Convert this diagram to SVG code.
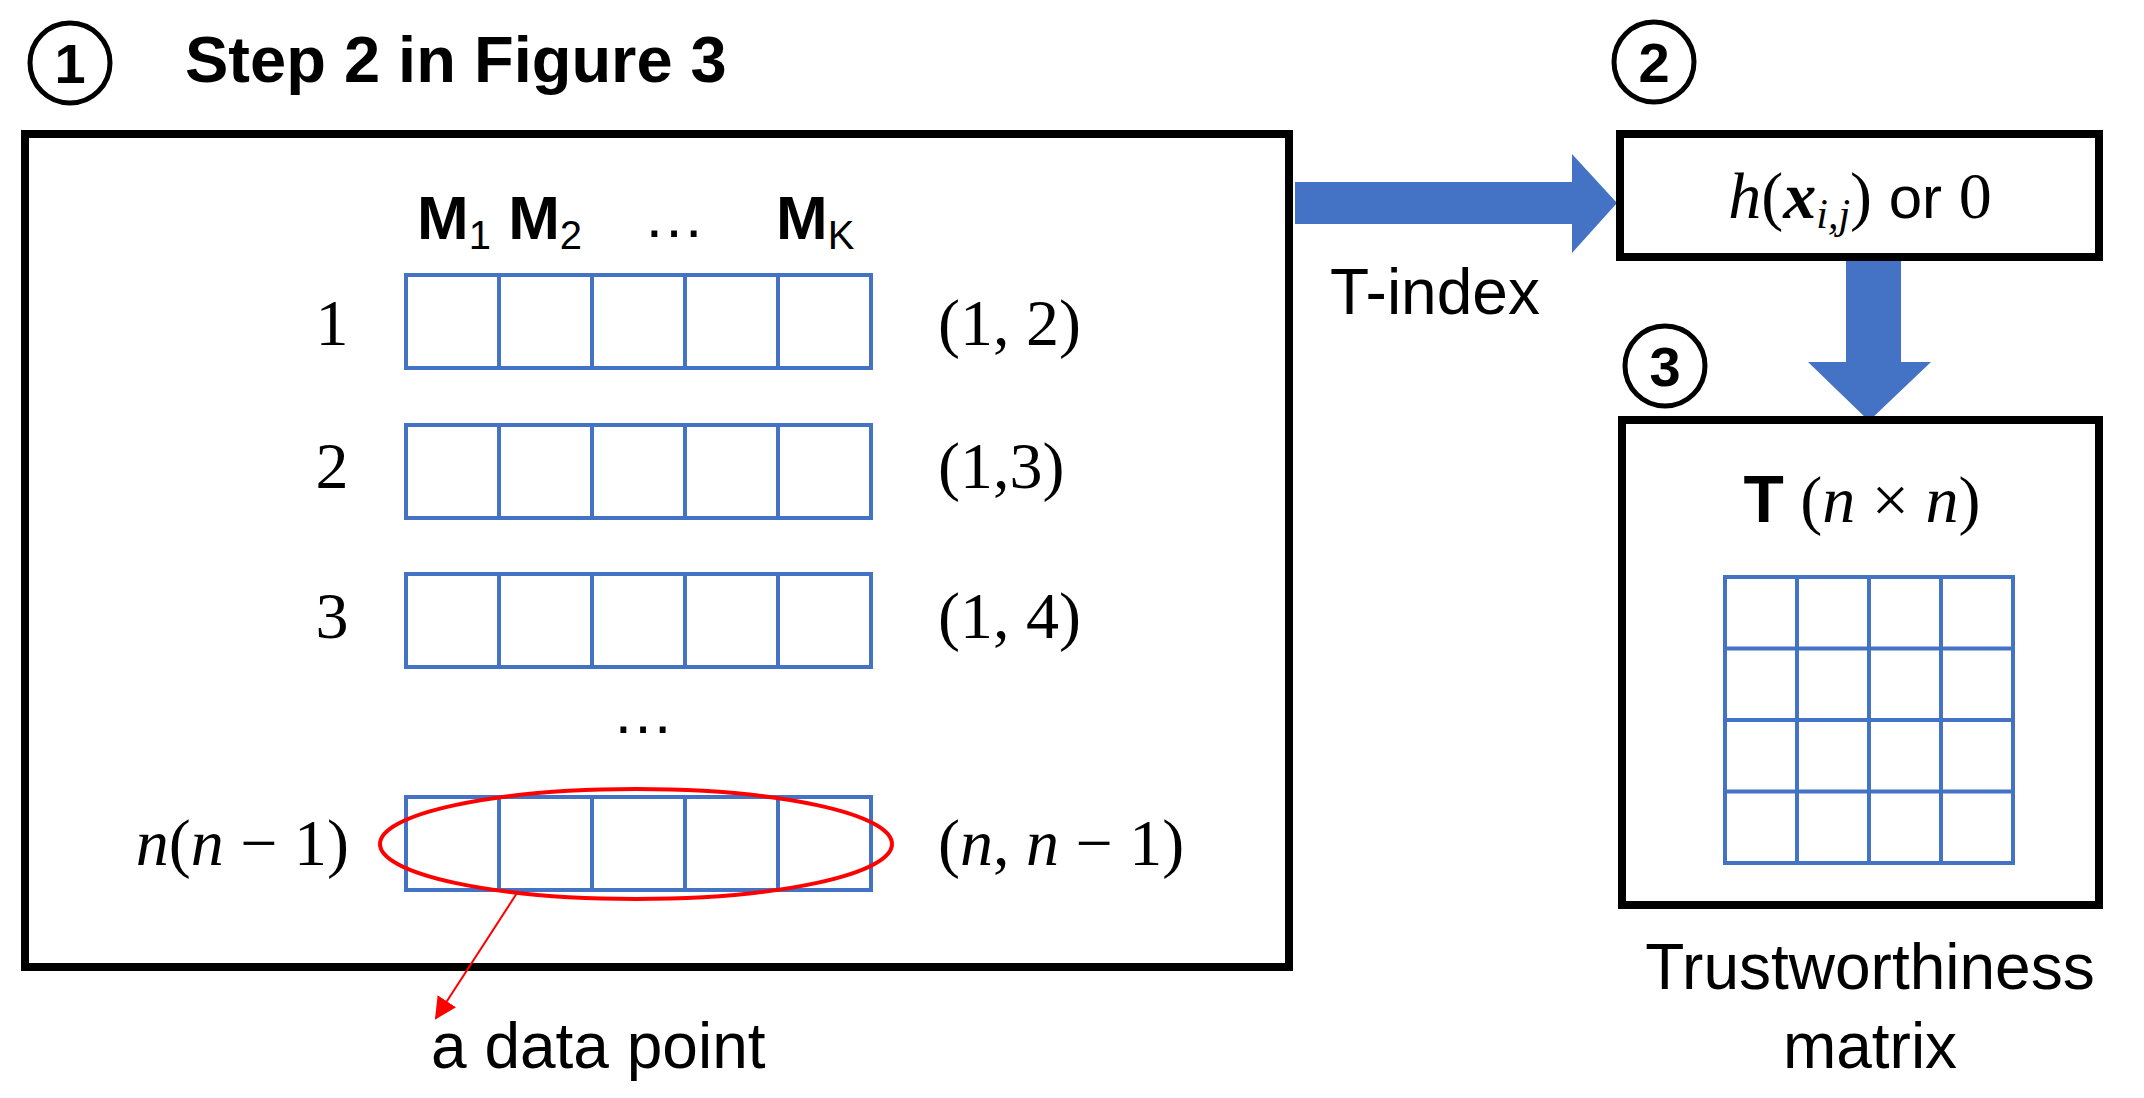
<svg xmlns="http://www.w3.org/2000/svg" width="2144" height="1098" viewBox="0 0 2144 1098">
<style>
.box{fill:none;stroke:#000;stroke-width:8}
.cell{fill:none;stroke:#4472C4;stroke-width:4}
.circ{fill:none;stroke:#000;stroke-width:5}
.sans{font-family:"Liberation Sans",Arial,sans-serif;fill:#000}
.b{font-weight:bold}
.m{font-family:"Liberation Serif","DejaVu Serif",serif;fill:#000;font-size:66px}
.i{font-style:italic}
.blue{fill:#4472C4}
</style>
<defs>
<marker id="ra" markerWidth="22" markerHeight="22" refX="20" refY="11" orient="auto" markerUnits="userSpaceOnUse" viewBox="0 0 22 22"><path d="M0,0 L22,11 L0,22 z" fill="#FF0000"/></marker>
<g id="row"><rect class="cell" x="0" y="0" width="465" height="93"/><line class="cell" x1="93" y1="0" x2="93" y2="93"/><line class="cell" x1="186" y1="0" x2="186" y2="93"/><line class="cell" x1="279" y1="0" x2="279" y2="93"/><line class="cell" x1="372" y1="0" x2="372" y2="93"/></g>
</defs>
<g id="step1">
<circle class="circ" cx="70" cy="63" r="40"/>
<text class="sans b" x="70" y="83" font-size="56" text-anchor="middle">1</text>
<text class="sans b" x="185" y="82" font-size="65">Step 2 in Figure 3</text>
<text class="sans b" x="417" y="239" font-size="62">M<tspan font-size="40" font-weight="normal" dy="10">1</tspan><tspan dy="-10"> M</tspan><tspan font-size="40" font-weight="normal" dy="10">2</tspan></text>
<text class="sans" x="643" y="237" font-size="62">…</text>
<text class="sans b" x="776" y="239" font-size="62">M<tspan font-size="40" font-weight="normal" dy="10">K</tspan></text>
<rect class="box" x="25" y="134" width="1264" height="833"/>
<use href="#row" x="406" y="275"/>
<use href="#row" x="406" y="425"/>
<use href="#row" x="406" y="574"/>
<use href="#row" x="406" y="797"/>
<text class="m" x="332" y="345" text-anchor="middle">1</text>
<text class="m" x="332" y="488" text-anchor="middle">2</text>
<text class="m" x="332" y="638" text-anchor="middle">3</text>
<text class="m" x="349" y="865" text-anchor="end"><tspan class="i">n</tspan>(<tspan class="i">n</tspan> − 1)</text>
<text class="m" x="938" y="345">(1, 2)</text>
<text class="m" x="938" y="488">(1,3)</text>
<text class="m" x="938" y="638">(1, 4)</text>
<text class="m" x="938" y="865">(<tspan class="i">n</tspan>, <tspan class="i">n</tspan> − 1)</text>
<text class="sans" x="643" y="733" font-size="62" text-anchor="middle">…</text>
<ellipse cx="636" cy="844" rx="256" ry="55" fill="none" stroke="#FF0000" stroke-width="4"/>
</g>
<g id="connectors">
<line x1="517" y1="893" x2="436" y2="1018" stroke="#FF0000" stroke-width="2" marker-end="url(#ra)"/>
<polygon class="blue" points="1295,182 1572,182 1572,154 1617,203 1572,253 1572,224 1295,224"/>
<polygon class="blue" points="1846,260 1901,260 1901,362 1931,362 1869,421 1808,362 1846,362"/>
</g>
<text class="sans" x="431" y="1068" font-size="64">a data point</text>
<text class="sans" x="1330" y="314" font-size="64">T-index</text>
<g id="step2">
<circle class="circ" cx="1654" cy="62" r="40"/>
<text class="sans b" x="1654" y="82" font-size="56" text-anchor="middle">2</text>
<rect class="box" x="1620" y="134" width="479" height="123"/>
<text class="m" x="1860" y="218" text-anchor="middle"><tspan class="i">h</tspan>(<tspan class="i" font-weight="bold">x</tspan><tspan class="i" font-size="42" dy="10">i,j</tspan><tspan dy="-10">)</tspan><tspan font-family="Liberation Sans,sans-serif" font-size="60"> or </tspan>0</text>
</g>
<g id="step3">
<circle class="circ" cx="1665" cy="366" r="40"/>
<text class="sans b" x="1665" y="386" font-size="56" text-anchor="middle">3</text>
<rect class="box" x="1622" y="420" width="477" height="485"/>
<text class="m" x="1862" y="522" text-anchor="middle"><tspan font-family="Liberation Sans,sans-serif" font-weight="bold">T</tspan> (<tspan class="i">n</tspan> × <tspan class="i">n</tspan>)</text>
<rect class="cell" x="1725" y="577" width="288" height="286"/>
<path class="cell" d="M1797,577V863M1869,577V863M1941,577V863M1725,648.5H2013M1725,720H2013M1725,791.5H2013"/>
<text class="sans" x="1870" y="989" font-size="64" text-anchor="middle">Trustworthiness</text>
<text class="sans" x="1870" y="1068" font-size="64" text-anchor="middle">matrix</text>
</g>
</svg>
